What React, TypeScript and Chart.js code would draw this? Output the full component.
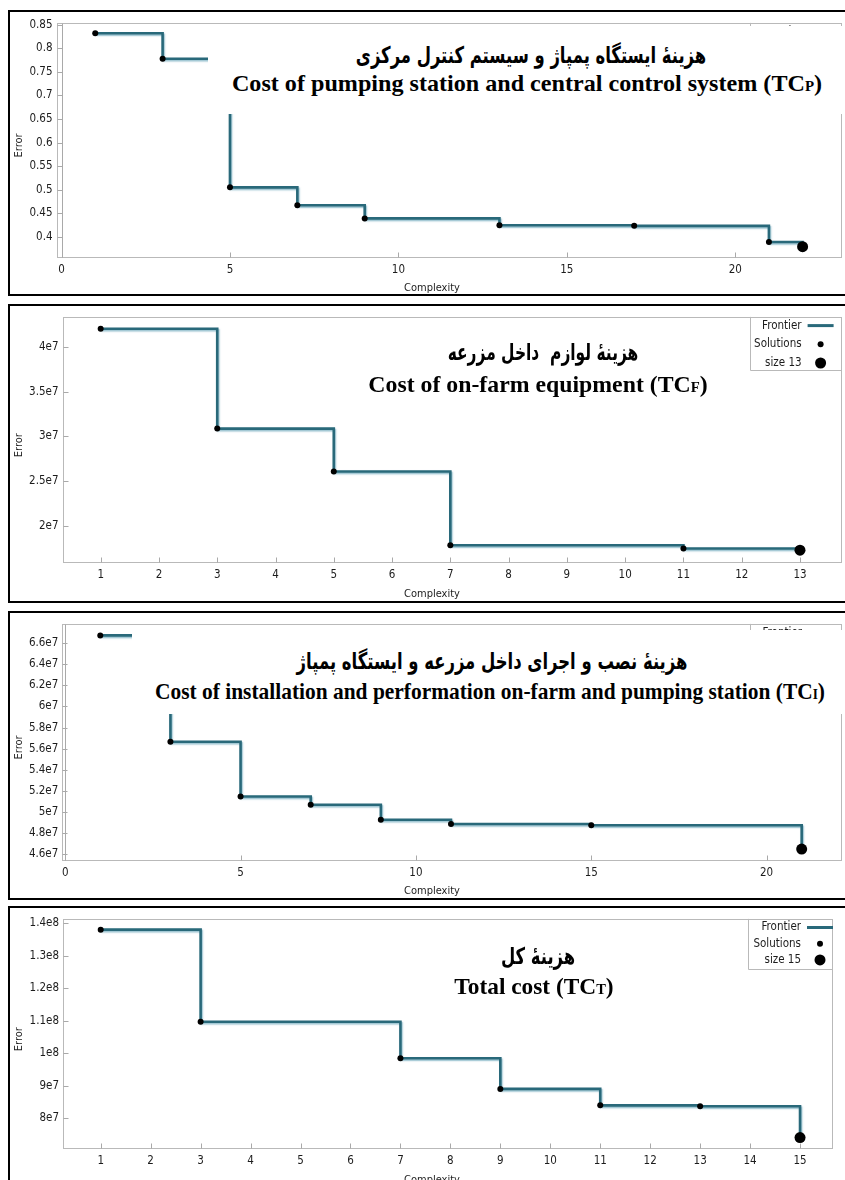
import React, { useEffect, useLayoutEffect, useRef } from "react";
import { Chart, registerables } from "chart.js";

Chart.register(...registerables);

// ---------------- data ----------------
const X_TITLE = "Complexity";
const Y_TITLE = "Error";
const LEGEND_FRONTIER = "Frontier";
const LEGEND_SOLUTIONS = "Solutions";

const P1_COMPLEXITY = [1, 3, 5, 7, 9, 13, 17, 21, 22];
const P1_ERROR = [0.832, 0.778, 0.505, 0.467, 0.439, 0.4246, 0.4232, 0.389, 0.379];
const P1_X_TICKS = [0, 5, 10, 15, 20];
const P1_Y_TICKS = [0.4, 0.45, 0.5, 0.55, 0.6, 0.65, 0.7, 0.75, 0.8, 0.85];
const P1_Y_LABELS = ["0.4", "0.45", "0.5", "0.55", "0.6", "0.65", "0.7", "0.75", "0.8", "0.85"];

const P2_COMPLEXITY = [1, 3, 5, 7, 11, 13];
const P2_ERROR = [4.202e7, 3.088e7, 2.61e7, 1.787e7, 1.75e7, 1.732e7];
const P2_X_TICKS = [1, 2, 3, 4, 5, 6, 7, 8, 9, 10, 11, 12, 13];
const P2_Y_TICKS = [2e7, 2.5e7, 3e7, 3.5e7, 4e7];
const P2_Y_LABELS = ["2e7", "2.5e7", "3e7", "3.5e7", "4e7"];

const P3_COMPLEXITY = [1, 3, 5, 7, 9, 11, 15, 21];
const P3_ERROR = [6.672e7, 5.665e7, 5.147e7, 5.069e7, 4.928e7, 4.887e7, 4.875e7, 4.65e7];
const P3_X_TICKS = [0, 5, 10, 15, 20];
const P3_Y_TICKS = [4.6e7, 4.8e7, 5e7, 5.2e7, 5.4e7, 5.6e7, 5.8e7, 6e7, 6.2e7, 6.4e7, 6.6e7];
const P3_Y_LABELS = ["4.6e7", "4.8e7", "5e7", "5.2e7", "5.4e7", "5.6e7", "5.8e7", "6e7", "6.2e7", "6.4e7", "6.6e7"];

const P4_COMPLEXITY = [1, 3, 7, 9, 11, 13, 15];
const P4_ERROR = [1.38e8, 1.0964e8, 9.841e7, 8.9e7, 8.394e7, 8.364e7, 7.402e7];
const P4_X_TICKS = [1, 2, 3, 4, 5, 6, 7, 8, 9, 10, 11, 12, 13, 14, 15];
const P4_Y_TICKS = [8e7, 9e7, 1e8, 1.1e8, 1.2e8, 1.3e8, 1.4e8];
const P4_Y_LABELS = ["8e7", "9e7", "1e8", "1.1e8", "1.2e8", "1.3e8", "1.4e8"];

const P1_TITLE_FA = "هزینهٔ ایستگاه پمپاژ و سیستم کنترل مرکزی";
const P1_TITLE_EN = "Cost of pumping station and central control system (TC";
const P1_TITLE_SUB = "P";
const P2_TITLE_FA = "هزینهٔ لوازم  داخل مزرعه";
const P2_TITLE_EN = "Cost of on-farm equipment (TC";
const P2_TITLE_SUB = "F";
const P3_TITLE_FA = "هزینهٔ نصب و اجرای داخل مزرعه و ایستگاه پمپاژ";
const P3_TITLE_EN = "Cost of installation and performation on-farm and pumping station (TC";
const P3_TITLE_SUB = "I";
const P4_TITLE_FA = "هزینهٔ کل";
const P4_TITLE_EN = "Total cost (TC";
const P4_TITLE_SUB = "T";

// ---------------- styles ----------------
const LINE_COLOR = "#29697a";
const FRAME_COLOR = "#b9b9b9";
const TICK_COLOR = "#a9a9a9";
const TEXT_COLOR = "#1c1c1c";
const UI_FONT = "'DejaVu Sans Condensed', 'DejaVu Sans', sans-serif";
const CANVAS_LEFT = 10;
const CANVAS_WIDTH = 835;

interface Area { left: number; top: number; right: number; bottom: number; }
interface LegendCfg { width: number; shift: number; first: number; gap: number; height: number; }
interface PanelCfg {
  xs: number[]; ys: number[]; xTicks: number[]; yTicks: number[]; yLabels: string[];
  xRange: [number, number]; yRange: [number, number];
  canvasTop: number; canvasHeight: number; area: Area; legend: LegendCfg;
}

const PANELS: PanelCfg[] = [
  {
    xs: P1_COMPLEXITY, ys: P1_ERROR, xTicks: P1_X_TICKS, yTicks: P1_Y_TICKS, yLabels: P1_Y_LABELS,
    xRange: [-0.15, 23.17], yRange: [0.355, 0.854],
    canvasTop: 12, canvasHeight: 283,
    area: { left: 56.5, top: 20.5, right: 842, bottom: 258 },
    legend: { width: 92, shift: 0, first: 8.7, gap: 18.7, height: 52.7 },
  },
  {
    xs: P2_COMPLEXITY, ys: P2_ERROR, xTicks: P2_X_TICKS, yTicks: P2_Y_TICKS, yLabels: P2_Y_LABELS,
    xRange: [0.345, 13.714], yRange: [1.5855e7, 4.334e7],
    canvasTop: 306, canvasHeight: 295,
    area: { left: 62.5, top: 314, right: 841.6, bottom: 563.3 },
    legend: { width: 92, shift: 0, first: 8.7, gap: 18.7, height: 52.7 },
  },
  {
    xs: P3_COMPLEXITY, ys: P3_ERROR, xTicks: P3_X_TICKS, yTicks: P3_Y_TICKS, yLabels: P3_Y_LABELS,
    xRange: [-0.083, 22.15], yRange: [4.537e7, 6.781e7],
    canvasTop: 613, canvasHeight: 285,
    area: { left: 62.3, top: 621.7, right: 842, bottom: 861 },
    legend: { width: 92, shift: 0, first: 8.7, gap: 18.7, height: 52.7 },
  },
  {
    xs: P4_COMPLEXITY, ys: P4_ERROR, xTicks: P4_X_TICKS, yTicks: P4_Y_TICKS, yLabels: P4_Y_LABELS,
    xRange: [0.245, 15.66], yRange: [7.041e7, 1.413e8],
    canvasTop: 908, canvasHeight: 272,
    area: { left: 63, top: 915.7, right: 833, bottom: 1149.3 },
    legend: { width: 85, shift: 8, first: 8.6, gap: 16.2, height: 50 },
  },
];

const decorPlugin = {
  id: "paretoDecor",
  beforeDatasetsDraw(chart: any) {
    const { ctx, chartArea: a, scales } = chart;
    const xs = scales.x;
    const ys = scales.y;
    const L = Math.round(a.left) + 0.5;
    const R = Math.round(a.right) - 0.5;
    const T = Math.round(a.top) + 0.5;
    const B = Math.round(a.bottom) - 0.5;
    ctx.save();
    ctx.lineWidth = 1;
    ctx.strokeStyle = FRAME_COLOR;
    ctx.strokeRect(L, T, R - L, B - T);
    ctx.strokeStyle = TICK_COLOR;
    ctx.beginPath();
    if (xs.min < 0 && xs.max > 0) {
      const px = Math.round(xs.getPixelForValue(0)) + 0.5;
      ctx.moveTo(px, T);
      ctx.lineTo(px, B);
    }
    xs.ticks.forEach((t: any) => {
      const px = Math.round(xs.getPixelForValue(t.value)) + 0.5;
      ctx.moveTo(px, B);
      ctx.lineTo(px, B - 5);
    });
    ys.ticks.forEach((t: any) => {
      const py = Math.round(ys.getPixelForValue(t.value)) + 0.5;
      ctx.moveTo(L, py);
      ctx.lineTo(L + 5, py);
    });
    ctx.stroke();
    ctx.restore();
  },
  beforeDatasetDraw(chart: any, args: any) {
    if (args.index === 0) {
      const ctx = chart.ctx;
      ctx.shadowColor = "rgba(105,165,185,0.7)";
      ctx.shadowOffsetX = 1;
      ctx.shadowOffsetY = 1.5;
      ctx.shadowBlur = 1.5;
    }
  },
  afterDatasetDraw(chart: any, args: any) {
    if (args.index === 0) {
      const ctx = chart.ctx;
      ctx.shadowColor = "rgba(0,0,0,0)";
      ctx.shadowOffsetX = 0;
      ctx.shadowOffsetY = 0;
      ctx.shadowBlur = 0;
    }
  },
  afterDraw(chart: any, _args: any, opts: any) {
    const { ctx, chartArea: a } = chart;
    const lg: LegendCfg = opts.legend;
    ctx.save();
    // legend frame
    const boxL = Math.round(a.right - lg.width) + 0.5;
    const boxB = Math.round(a.top + lg.height) + 0.5;
    ctx.strokeStyle = FRAME_COLOR;
    ctx.lineWidth = 1;
    ctx.beginPath();
    ctx.moveTo(boxL, a.top);
    ctx.lineTo(boxL, boxB);
    ctx.lineTo(a.right, boxB);
    ctx.stroke();
    // legend items
    const right = a.right + lg.shift;
    ctx.font = `11.5px ${UI_FONT}`;
    ctx.textAlign = "right";
    ctx.textBaseline = "middle";
    chart.data.datasets.forEach((d: any, i: number) => {
      const y = a.top + lg.first + i * lg.gap;
      ctx.fillStyle = TEXT_COLOR;
      ctx.fillText(d.label, right - 40, y);
      if (i === 0) {
        ctx.strokeStyle = LINE_COLOR;
        ctx.lineWidth = 3;
        ctx.beginPath();
        ctx.moveTo(right - 34, y);
        ctx.lineTo(right - 8, y);
        ctx.stroke();
      } else {
        ctx.fillStyle = "#000";
        ctx.beginPath();
        ctx.arc(right - 21, y, d.pointRadius, 0, Math.PI * 2);
        ctx.fill();
      }
    });
    // axis titles
    ctx.fillStyle = TEXT_COLOR;
    ctx.font = `11px ${UI_FONT}`;
    ctx.textAlign = "center";
    ctx.fillText(X_TITLE, 432 - CANVAS_LEFT, a.bottom + 30.5);
    ctx.translate(9, (a.top + a.bottom) / 2 + 5);
    ctx.rotate(-Math.PI / 2);
    ctx.fillText(Y_TITLE, 0, 0);
    ctx.restore();
  },
};

function ParetoChart({ cfg }: { cfg: PanelCfg }) {
  const ref = useRef<HTMLCanvasElement>(null);
  useEffect(() => {
    const canvas = ref.current;
    if (!canvas) return;
    const n = cfg.xs.length;
    const points = cfg.xs.map((x, i) => ({ x, y: cfg.ys[i] }));
    const l = cfg.area.left - CANVAS_LEFT;
    const t = cfg.area.top - cfg.canvasTop;
    const r = cfg.area.right - CANVAS_LEFT;
    const b = cfg.area.bottom - cfg.canvasTop;
    const H = cfg.canvasHeight;
    const tickFont = { family: UI_FONT, size: 11.5 };
    const chart = new Chart(canvas, {
      type: "scatter",
      data: {
        datasets: [
          {
            label: LEGEND_FRONTIER,
            data: points,
            showLine: true,
            stepped: "before",
            borderColor: LINE_COLOR,
            borderWidth: 2.6,
            pointRadius: 0,
            fill: false,
            order: 3,
          } as any,
          {
            label: LEGEND_SOLUTIONS,
            data: points.slice(0, n - 1),
            pointRadius: 3,
            pointBackgroundColor: "#000",
            pointBorderWidth: 0,
            order: 2,
          },
          {
            label: `size ${cfg.xs[n - 1]}`,
            data: points.slice(n - 1),
            pointRadius: 5.5,
            pointBackgroundColor: "#000",
            pointBorderWidth: 0,
            order: 1,
          },
        ],
      },
      options: {
        animation: false,
        responsive: false,
        devicePixelRatio: 1,
        events: [],
        layout: { autoPadding: false, padding: { left: 0, top: t, right: CANVAS_WIDTH - r, bottom: 0 } },
        plugins: {
          legend: { display: false },
          tooltip: { enabled: false },
          paretoDecor: { legend: cfg.legend },
        } as any,
        scales: {
          x: {
            type: "linear",
            position: "bottom",
            min: cfg.xRange[0],
            max: cfg.xRange[1],
            grid: { display: false, drawTicks: false },
            border: { display: false },
            afterBuildTicks: (s: any) => { s.ticks = cfg.xTicks.map((v) => ({ value: v })); },
            afterFit: (s: any) => { s.height = H - b; },
            ticks: {
              padding: 5, autoSkip: false, maxRotation: 0, font: tickFont, color: TEXT_COLOR,
              callback: (v: any) => String(v),
            },
          },
          y: {
            type: "linear",
            position: "left",
            min: cfg.yRange[0],
            max: cfg.yRange[1],
            grid: { display: false, drawTicks: false },
            border: { display: false },
            afterBuildTicks: (s: any) => { s.ticks = cfg.yTicks.map((v) => ({ value: v })); },
            afterFit: (s: any) => { s.width = l; },
            ticks: {
              padding: 4, autoSkip: false, font: tickFont, color: TEXT_COLOR,
              callback: (_v: any, i: number) => cfg.yLabels[i],
            },
          },
        },
      },
      plugins: [decorPlugin],
    });
    return () => chart.destroy();
  }, [cfg]);
  return (
    <canvas
      ref={ref}
      width={CANVAS_WIDTH}
      height={cfg.canvasHeight}
      style={{ position: "absolute", left: CANVAS_LEFT, top: cfg.canvasTop, width: CANVAS_WIDTH, height: cfg.canvasHeight }}
    />
  );
}

function FitLine({ cx, cy, w, style, dir, children }: any) {
  const ref = useRef<HTMLSpanElement>(null);
  useLayoutEffect(() => {
    const el = ref.current;
    if (!el) return;
    const natural = el.offsetWidth;
    const k = natural > 0 ? w / natural : 1;
    el.style.transform = `translate(-50%, -50%) scaleX(${k})`;
  }, [w]);
  return (
    <span
      ref={ref}
      dir={dir}
      style={{
        position: "absolute", left: cx, top: cy, display: "inline-block", whiteSpace: "pre",
        lineHeight: 1, transform: "translate(-50%, -50%)", transformOrigin: "center center",
        color: "#000", ...style,
      }}
    >
      {children}
    </span>
  );
}

const FA_STYLE = { fontFamily: "'DejaVu Sans', sans-serif", fontWeight: 700, fontSize: 23 };
const EN_STYLE = { fontFamily: "'Liberation Serif', 'Times New Roman', serif", fontWeight: 700, fontSize: 23.5 };
const SUB_STYLE = { fontSize: "0.62em" };

const TITLES = [
  { fa: P1_TITLE_FA, en: P1_TITLE_EN, sub: P1_TITLE_SUB, fa_c: [531, 55, 350], en_c: [527, 84, 590],
    box: { left: 208, top: 26, width: 640, height: 88 } },
  { fa: P2_TITLE_FA, en: P2_TITLE_EN, sub: P2_TITLE_SUB, fa_c: [543, 352, 191], en_c: [537.5, 385, 339], box: null },
  { fa: P3_TITLE_FA, en: P3_TITLE_EN, sub: P3_TITLE_SUB, fa_c: [491.5, 661, 391], en_c: [489.5, 692, 670],
    box: { left: 132, top: 630, width: 716, height: 84 } },
  { fa: P4_TITLE_FA, en: P4_TITLE_EN, sub: P4_TITLE_SUB, fa_c: [538, 956, 74], en_c: [533.5, 987, 159], box: null },
];

const PANEL_BOXES = [
  { top: 10, height: 286 },
  { top: 304, height: 299 },
  { top: 611, height: 289 },
  { top: 906, height: 290 },
];

export default function App() {
  return (
    <div style={{ position: "absolute", left: 0, top: 0, width: 845, height: 1180, overflow: "hidden", background: "#fff" }}>
      {PANEL_BOXES.map((p, i) => (
        <div key={"p" + i} style={{ position: "absolute", left: 8, top: p.top, width: 840, height: p.height, border: "2px solid #000", boxSizing: "border-box" }} />
      ))}
      {PANELS.map((cfg, i) => (
        <ParetoChart key={"c" + i} cfg={cfg} />
      ))}
      {TITLES.map((t, i) => (
        <React.Fragment key={"t" + i}>
          {t.box && (
            <div style={{ position: "absolute", left: t.box.left, top: t.box.top, width: t.box.width, height: t.box.height, background: "#fff" }} />
          )}
          <FitLine cx={t.fa_c[0]} cy={t.fa_c[1]} w={t.fa_c[2]} dir="rtl" style={FA_STYLE}>{t.fa}</FitLine>
          <FitLine cx={t.en_c[0]} cy={t.en_c[1]} w={t.en_c[2]} style={EN_STYLE}>
            {t.en}<span style={SUB_STYLE}>{t.sub}</span>)
          </FitLine>
        </React.Fragment>
      ))}
    </div>
  );
}
